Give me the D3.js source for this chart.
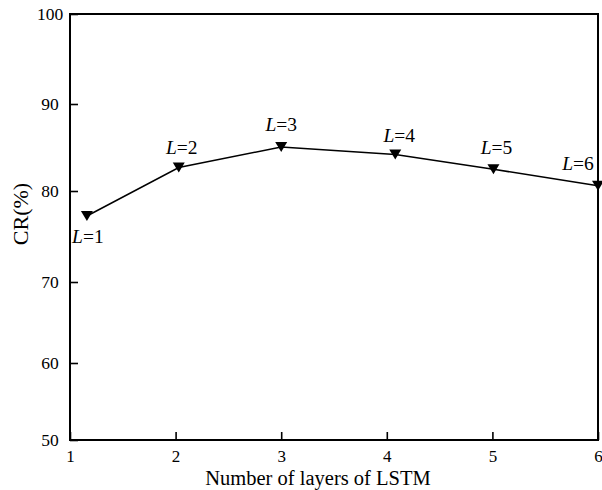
<!DOCTYPE html>
<html>
<head>
<meta charset="utf-8">
<script src="https://cdn.jsdelivr.net/npm/d3@7"></script>
<style>
    body { margin: 0; background: #fff; }
    svg text { font-family: "Liberation Serif", "Times New Roman", serif; fill: #000; }
</style>
</head>
<body>
<div class="canvas"></div>
<script>
// data
const layers = [1.16, 2.03, 3.0, 4.08, 5.01, 6.0];
const crValues = [77.25, 82.7, 85.06, 84.2, 82.5, 80.6];
const pointLabels = ['1', '2', '3', '4', '5', '6'];
const xTicks = [1, 2, 3, 4, 5, 6];
const yTicks = [50, 60, 70, 80, 90, 100];

// label offsets (layout only)
const labelOffsets = [[1, 27], [3, -14], [0, -16], [4, -12], [3, -15], [-20, -16]];

const svg = d3.select('.canvas')
    .append('svg')
    .attr('width', 602)
    .attr('height', 490);

const plot = { left: 70, right: 598, top: 14, bottom: 440 };

const x = d3.scaleLinear()
    .domain([1, 6])
    .range([plot.left, plot.right]);

// the original figure's gridding is slightly uneven, so map each tick to where it sits
const y = d3.scaleLinear()
    .domain(yTicks)
    .range([440, 363, 282, 191, 104, 14]);

// frame
svg.append('rect')
    .attr('x', plot.left)
    .attr('y', plot.top)
    .attr('width', plot.right - plot.left)
    .attr('height', plot.bottom - plot.top)
    .attr('fill', 'none')
    .attr('stroke', '#000')
    .attr('stroke-width', 2);

// x axis ticks (inward)
const xAxis = d3.axisBottom(x)
    .tickValues(xTicks)
    .tickFormat(d3.format('d'))
    .tickSizeInner(-8)
    .tickSizeOuter(0)
    .tickPadding(10);

const xAxisGroup = svg.append('g')
    .attr('transform', `translate(0, ${plot.bottom})`)
    .call(xAxis);

xAxisGroup.select('.domain').remove();
xAxisGroup.selectAll('line').attr('stroke-width', 1.6);
xAxisGroup.selectAll('text')
    .style('font-size', '17px')
    .style('font-family', '"Liberation Serif", serif');

// y axis ticks (inward), labels centred at x = 50
const yAxis = d3.axisLeft(y)
    .tickValues(yTicks)
    .tickFormat(d3.format('d'))
    .tickSizeInner(-8)
    .tickSizeOuter(0)
    .tickPadding(20);

const yAxisGroup = svg.append('g')
    .attr('transform', `translate(${plot.left}, 0)`)
    .call(yAxis);

yAxisGroup.select('.domain').remove();
yAxisGroup.selectAll('line').attr('stroke-width', 1.6);
yAxisGroup.selectAll('text')
    .attr('text-anchor', 'middle')
    .attr('x', -20)
    .style('font-size', '17.5px')
    .style('font-family', '"Liberation Serif", serif');

// axis titles
svg.append('text')
    .attr('x', 318)
    .attr('y', 485)
    .attr('text-anchor', 'middle')
    .style('font-size', '20.5px')
    .text('Number of layers of LSTM');

svg.append('text')
    .attr('transform', 'translate(28, 214) rotate(-90)')
    .attr('text-anchor', 'middle')
    .style('font-size', '22px')
    .text('CR(%)');

const data = layers.map((d, i) => ({ layer: d, cr: crValues[i], label: pointLabels[i] }));

// line
const line = d3.line()
    .x(d => x(d.layer))
    .y(d => y(d.cr));

svg.append('path')
    .datum(data)
    .attr('d', line)
    .attr('fill', 'none')
    .attr('stroke', '#000')
    .attr('stroke-width', 1.5);

// down-triangle markers
svg.selectAll('.marker')
    .data(data)
    .enter()
    .append('path')
    .attr('class', 'marker')
    .attr('d', 'M-6,-5L6,-5L0,5Z')
    .attr('transform', d => `translate(${x(d.layer)}, ${y(d.cr)})`)
    .attr('fill', '#000');

// point labels "L=n"
const labels = svg.selectAll('.plabel')
    .data(data)
    .enter()
    .append('text')
    .attr('class', 'plabel')
    .attr('x', (d, i) => x(d.layer) + labelOffsets[i][0])
    .attr('y', (d, i) => y(d.cr) + labelOffsets[i][1])
    .attr('text-anchor', 'middle')
    .style('font-size', '19.5px');

labels.append('tspan')
    .attr('font-style', 'italic')
    .text('L');

labels.append('tspan')
    .text(d => '=' + d.label);
</script>
</body>
</html>
